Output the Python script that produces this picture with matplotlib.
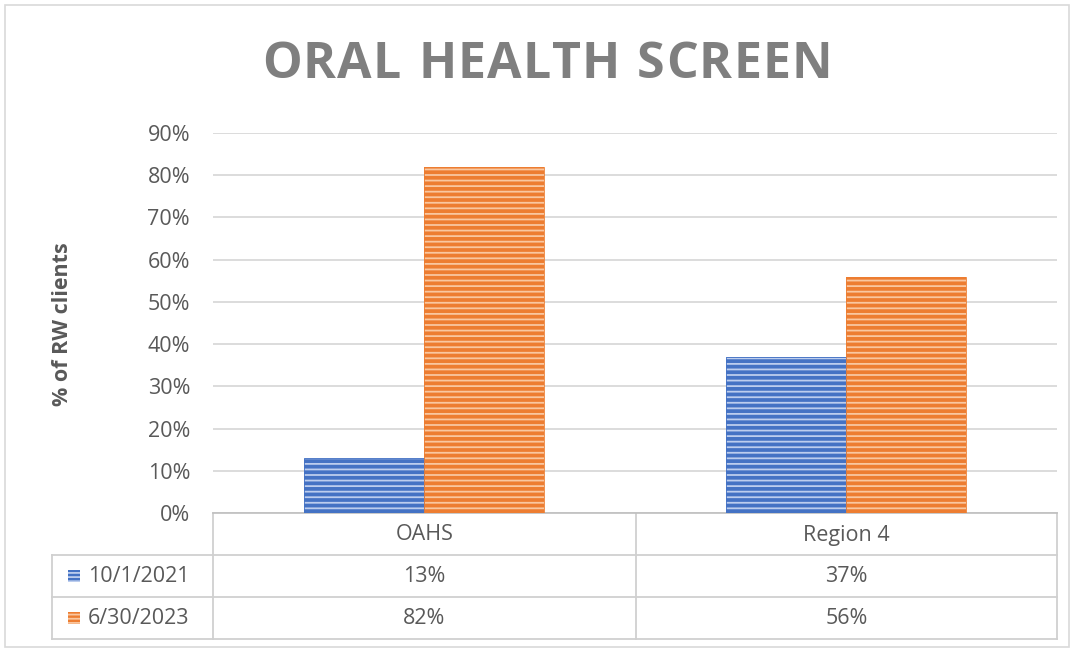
import matplotlib
matplotlib.use("Agg")
import matplotlib.pyplot as plt
from matplotlib.patches import Rectangle
from matplotlib.lines import Line2D
import numpy as np

categories = ["OAHS", "Region 4"]
series_names = ["10/1/2021", "6/30/2023"]
values_2021 = [0.13, 0.37]
values_2023 = [0.82, 0.56]
value_labels_2021 = ["13%", "37%"]
value_labels_2023 = ["82%", "56%"]
yticks = [0.0, 0.1, 0.2, 0.3, 0.4, 0.5, 0.6, 0.7, 0.8, 0.9]
ytick_labels = ["0%", "10%", "20%", "30%", "40%", "50%", "60%", "70%", "80%", "90%"]
title = "ORAL HEALTH SCREEN"

colors = ["#4472C4", "#ED7D31"]
hatch_colors = ["#bccdee", "#f9c7a0"]
TEXT = "#595959"
GRID = "#d9d9d9"
FS = 15.5

plt.rcParams['font.family'] = ['Open Sans', 'DejaVu Sans']
plt.rcParams['hatch.linewidth'] = 1.3

W, H = 1076, 652
fig = plt.figure(figsize=(W / 100, H / 100), dpi=100)

ov = fig.add_axes([0, 0, 1, 1], zorder=0)
ov.set_xlim(0, W)
ov.set_ylim(H, 0)
ov.axis("off")

L, R, B, T = 213, 1057, 513, 133
ax = fig.add_axes([L / W, 1 - B / H, (R - L) / W, (B - T) / H], zorder=1)
ax.patch.set_alpha(0)

x = np.arange(len(categories))
bw = 0.284
series = [values_2021, values_2023]
for i, vals in enumerate(series):
    off = (i - 0.5) * bw
    ax.bar(x + off, vals, width=bw, color=colors[i], edgecolor=hatch_colors[i],
           hatch="---", linewidth=0, zorder=3)
    ax.bar(x + off, vals, width=bw, fill=False, edgecolor=colors[i],
           linewidth=0.6, zorder=4)

ax.set_xlim(-0.5, len(categories) - 0.5)
ax.set_ylim(0, 0.9)
ax.set_yticks(yticks)
ax.set_yticklabels(ytick_labels, fontsize=FS, color=TEXT)
ax.tick_params(axis="y", length=0, pad=16.5)
ax.set_xticks([])
ax.yaxis.grid(True, color=GRID, linewidth=1.3, zorder=0)
for s in ["top", "right", "left"]:
    ax.spines[s].set_visible(False)
ax.spines["bottom"].set_color("#bfbfbf")
ax.spines["bottom"].set_linewidth(1.2)

fig.text(62 / W, 1 - 324 / H, "% of RW clients", rotation=90, ha="center",
         va="center", fontsize=15.5, fontweight="bold", color=TEXT)

# title with letter spacing
renderer = fig.canvas.get_renderer()
tfs = 36
widths = []
for ch in title:
    t = ov.text(0, 0, ch if ch != " " else "n", fontsize=tfs, fontweight="bold")
    w = t.get_window_extent(renderer).width
    if ch == " ":
        w *= 0.45
    widths.append(w)
    t.remove()
target_left, target_right = 262, 832
gap = (target_right - target_left - sum(widths)) / (len(title) - 1)
cx = target_left
for ch, w in zip(title, widths):
    if ch != " ":
        ov.text(cx, 65, ch, ha="left", va="center", fontsize=tfs,
                fontweight="bold", color="#7f7f7f")
    cx += w + gap

# table
tc = "#d0d0d0"
lw = 1.3
col_edges = [L, 636, R]
row_y = [B, 555, 597, 639]
for c in col_edges:
    ov.add_line(Line2D([c, c], [B, 639], color=tc, lw=lw))
ov.add_line(Line2D([52, 52], [555, 639], color=tc, lw=lw))
for ry in row_y[1:]:
    ov.add_line(Line2D([52, R], [ry, ry], color=tc, lw=lw))

for j, cat in enumerate(categories):
    c = (col_edges[j] + col_edges[j + 1]) / 2
    ov.text(c, (row_y[0] + row_y[1]) / 2 + 1, cat, ha="center", va="center",
            fontsize=FS, color=TEXT)
    ov.text(c, (row_y[1] + row_y[2]) / 2 + 1, value_labels_2021[j], ha="center",
            va="center", fontsize=FS, color=TEXT)
    ov.text(c, (row_y[2] + row_y[3]) / 2 + 1, value_labels_2023[j], ha="center",
            va="center", fontsize=FS, color=TEXT)

for i, name in enumerate(series_names):
    cy = (row_y[i + 1] + row_y[i + 2]) / 2
    ov.add_patch(Rectangle((68, cy - 6), 12, 12, facecolor=colors[i],
                           edgecolor=hatch_colors[i], hatch="----", linewidth=0))
    ov.text(88, cy + 1, name, ha="left", va="center", fontsize=FS, color=TEXT)

ov.add_patch(Rectangle((5, 5), W - 12, H - 10, fill=False, edgecolor="#d9d9d9", lw=1.2))

fig.savefig("out.png", dpi=100)
